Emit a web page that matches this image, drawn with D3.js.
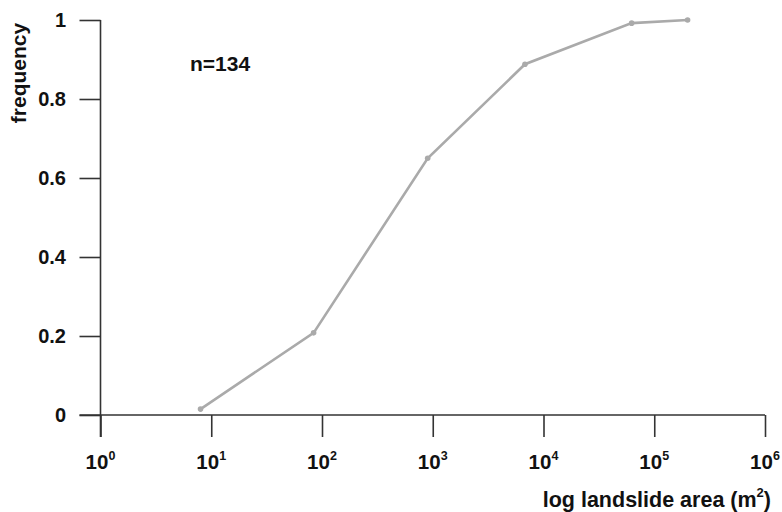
<!DOCTYPE html>
<html lang="en">
<head>
<meta charset="UTF-8">
<title>Landslide area cumulative frequency</title>
<script src="https://d3js.org/d3.v7.min.js"></script>
<style>
  body { margin: 0; background: #fff; }
  svg { display: block; background: #fff; }
  .axis path, .axis line { stroke: #333; stroke-width: 1.6; }
  .lbl { font-family: Arial, "Liberation Sans", sans-serif; font-weight: bold; fill: #111; }
</style>
</head>
<body>
<svg width="782" height="512"></svg>
<script>
// landslide area (m2) and cumulative frequency
const areas = [8, 84, 900, 6800, 62500, 200000];
const freqs = [0.015, 0.208, 0.65, 0.888, 0.992, 1.0];
const xTicks = [1, 10, 100, 1000, 10000, 100000, 1000000];
const yTicks = [0, 0.2, 0.4, 0.6, 0.8, 1];
const yTickLabels = ["0", "0.2", "0.4", "0.6", "0.8", "1"];

const svg = d3.select("svg");

const x = d3.scaleLog().domain([1, 1e6]).range([100.5, 765]);
const y = d3.scaleLinear().domain([0, 1]).range([415, 20]);

// y axis
const yAxis = svg.append("g")
  .attr("class", "axis")
  .attr("transform", "translate(" + x(1) + ",0)")
  .call(d3.axisLeft(y).tickValues(yTicks).tickSize(21).tickSizeOuter(0).tickFormat(""));
yAxis.select(".domain").attr("d", "M0," + y(1) + "V" + (y(0) + 22));

// x axis
const xAxis = svg.append("g")
  .attr("class", "axis")
  .attr("transform", "translate(0," + y(0) + ")")
  .call(d3.axisBottom(x).tickValues(xTicks).tickSize(22).tickSizeOuter(0).tickFormat(""));
xAxis.select(".domain").attr("d", "M" + (x(1) - 21) + ",0H" + x(1e6));

// y tick labels
svg.selectAll(".ylab")
  .data(yTicks)
  .enter().append("text")
  .attr("class", "lbl")
  .attr("x", 66)
  .attr("y", d => y(d))
  .attr("dy", "0.36em")
  .attr("text-anchor", "end")
  .style("font-size", "20px")
  .text((d, i) => yTickLabels[i]);

// x tick labels as powers of ten
const xl = svg.selectAll(".xlab")
  .data(xTicks)
  .enter().append("text")
  .attr("class", "lbl")
  .attr("x", d => x(d))
  .attr("y", 469)
  .attr("text-anchor", "middle")
  .style("font-size", "20.5px");
xl.append("tspan").text("10");
xl.append("tspan")
  .attr("dy", -9)
  .style("font-size", "12.5px")
  .text(d => Math.round(Math.log10(d)));

// line
const line = d3.line()
  .x(d => x(d[0]))
  .y(d => y(d[1]));
const pts = areas.map((a, i) => [a, freqs[i]]);

svg.append("path")
  .datum(pts)
  .attr("fill", "none")
  .attr("stroke", "#aaa")
  .attr("stroke-width", 2.6)
  .attr("d", line);

svg.selectAll(".pt")
  .data(pts)
  .enter().append("circle")
  .attr("cx", d => x(d[0]))
  .attr("cy", d => y(d[1]))
  .attr("r", 2.8)
  .attr("fill", "#aaa");

// axis titles
svg.append("text")
  .attr("class", "lbl")
  .attr("transform", "translate(26,73) rotate(-90)")
  .attr("text-anchor", "middle")
  .style("font-size", "21px")
  .text("frequency");

const xt = svg.append("text")
  .attr("class", "lbl")
  .attr("x", 771)
  .attr("y", 507)
  .attr("text-anchor", "end")
  .style("font-size", "21.5px");
xt.append("tspan").text("log landslide area (m");
xt.append("tspan").attr("dy", -10).style("font-size", "13px").text("2");
xt.append("tspan").attr("dy", 10).text(")");

// sample size
svg.append("text")
  .attr("class", "lbl")
  .attr("x", 190)
  .attr("y", 71)
  .style("font-size", "21px")
  .text("n=134");
</script>
</body>
</html>
